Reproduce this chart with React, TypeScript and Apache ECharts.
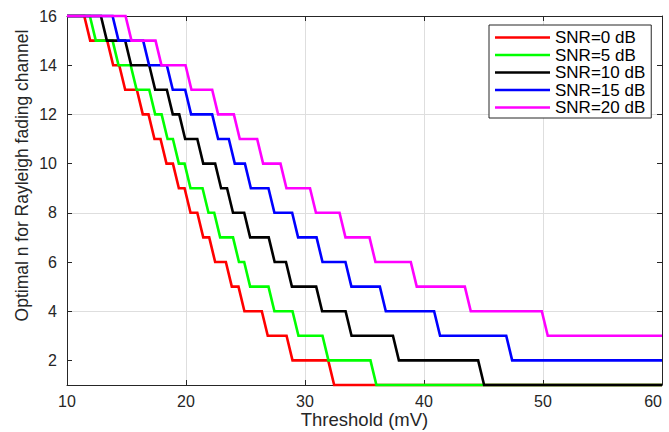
import React, { useEffect, useRef } from 'react';
import * as echarts from 'echarts';

// ---- data ----
const seriesNames = ['SNR=0 dB', 'SNR=5 dB', 'SNR=10 dB', 'SNR=15 dB', 'SNR=20 dB'];
const seriesColors = ['#ff0000', '#00ff00', '#000000', '#0000ff', '#ff00ff'];

// Threshold (mV) at which the optimal n drops by one step, starting from n = 16
const dropsSnr0 = [11.7, 13.63, 14.64, 16.12, 17.1, 18.11, 19.15, 20.13, 21.2, 22.2, 23.6, 24.66, 26.62, 28.7, 32.2];
const dropsSnr5 = [12.17, 14.08, 15.6, 17.16, 18.2, 19.15, 20.13, 21.64, 22.62, 24.2, 25.14, 27.18, 29.2, 31.72, 35.75];
const dropsSnr10 = [13.1, 15.14, 17.16, 18.64, 19.68, 21.2, 22.7, 23.7, 25.14, 27.2, 28.65, 31.19, 33.66, 37.64, 44.8];
const dropsSnr15 = [14.08, 16.65, 18.64, 20.18, 22.45, 23.85, 25.2, 27.18, 29.17, 31.22, 33.65, 36.54, 41.1, 47.16];
const dropsSnr20 = [15.17, 17.69, 20.21, 22.45, 24.27, 26.23, 28.19, 30.67, 33.15, 35.67, 39.14, 43.68, 50.15];

const startLevel = 16;
const xMin = 10;
const xMax = 60;
const yMin = 1;
const yMax = 16;
const yTickValues = [2, 4, 6, 8, 10, 12, 14, 16];
const xTitle = 'Threshold (mV)';
const yTitle = 'Optimal n for Rayleigh fading channel';

const allDrops = [dropsSnr0, dropsSnr5, dropsSnr10, dropsSnr15, dropsSnr20];
const slantHalf = 0.25;

function stepPoints(drops: number[]): number[][] {
  const pts: number[][] = [[xMin, startLevel]];
  let level = startLevel;
  for (const t of drops) {
    pts.push([t - slantHalf, level]);
    level -= 1;
    pts.push([t + slantHalf, level]);
  }
  pts.push([xMax, level]);
  return pts;
}

const FONT = '"Liberation Sans", Arial, Helvetica, sans-serif';
const AXIS_COLOR = '#262626';
const GRID_COLOR = '#dedede';

export default function App() {
  const ref = useRef<HTMLDivElement>(null);

  useEffect(() => {
    if (!ref.current) return;
    const chart = echarts.init(ref.current, undefined, { renderer: 'svg' });

    const baseX = {
      type: 'value' as const,
      min: xMin,
      max: xMax,
      interval: 10,
    };
    const baseY = {
      type: 'value' as const,
      min: yMin,
      max: yMax,
      interval: 1,
    };

    const option: any = {
      animation: false,
      backgroundColor: '#ffffff',
      grid: {
        left: 67,
        right: 7,
        top: 16,
        bottom: 47,
        containLabel: false,
        outerBoundsMode: 'none',
      },
      xAxis: [
        {
          ...baseX,
          position: 'bottom',
          name: xTitle,
          nameLocation: 'middle',
          nameGap: 25,
          nameMoveOverlap: false,
          nameTextStyle: { fontFamily: FONT, fontSize: 18.5, color: AXIS_COLOR, lineHeight: 19 },
          axisLine: { show: true, lineStyle: { color: AXIS_COLOR, width: 1 } },
          axisTick: { show: true, inside: true, length: 5, lineStyle: { color: AXIS_COLOR } },
          axisLabel: {
            fontFamily: FONT,
            fontSize: 16,
            color: AXIS_COLOR,
            margin: 8,
            alignMaxLabel: 'right',
          },
          splitLine: { show: true, lineStyle: { color: GRID_COLOR, width: 1 } },
        },
        {
          ...baseX,
          position: 'top',
          axisLine: { show: true, lineStyle: { color: AXIS_COLOR, width: 1 } },
          axisTick: { show: true, inside: true, length: 5, lineStyle: { color: AXIS_COLOR } },
          axisLabel: { show: false },
          splitLine: { show: false },
        },
      ],
      yAxis: [
        {
          ...baseY,
          position: 'left',
          name: yTitle,
          nameLocation: 'middle',
          nameGap: 36,
          nameMoveOverlap: false,
          nameRotate: 90,
          nameTextStyle: {
            fontFamily: FONT,
            fontSize: 17.5,
            color: AXIS_COLOR,
            padding: [0, 0, 0, 50],
          },
          axisLine: { show: true, lineStyle: { color: AXIS_COLOR, width: 1 } },
          axisTick: {
            show: true,
            inside: true,
            length: 5,
            customValues: yTickValues,
            lineStyle: { color: AXIS_COLOR },
          },
          axisLabel: {
            fontFamily: FONT,
            fontSize: 16,
            color: AXIS_COLOR,
            margin: 10,
            customValues: yTickValues,
            formatter: (v: number) => (v % 2 === 0 ? String(v) : ''),
          },
          splitLine: {
            show: true,
            lineStyle: { color: ['rgba(0,0,0,0)', GRID_COLOR], width: 1 },
          },
        },
        {
          ...baseY,
          position: 'right',
          axisLine: { show: true, lineStyle: { color: AXIS_COLOR, width: 1 } },
          axisTick: {
            show: true,
            inside: true,
            length: 5,
            customValues: yTickValues,
            lineStyle: { color: AXIS_COLOR },
          },
          axisLabel: { show: false },
          splitLine: { show: false },
        },
      ],
      legend: {
        data: seriesNames,
        orient: 'vertical',
        left: 489,
        top: 25,
        padding: [4, 6, 2, 6],
        icon: 'rect',
        itemWidth: 55,
        itemHeight: 2.6,
        itemGap: 0.5,
        backgroundColor: '#ffffff',
        borderColor: AXIS_COLOR,
        borderWidth: 1,
        borderRadius: 0,
        textStyle: { fontFamily: FONT, fontSize: 17, color: '#000000', lineHeight: 17 },
      },
      series: seriesNames.map((name, i) => ({
        name,
        type: 'line',
        xAxisIndex: 0,
        yAxisIndex: 0,
        data: stepPoints(allDrops[i]),
        symbol: 'none',
        showSymbol: false,
        clip: false,
        z: 2 + i,
        lineStyle: { color: seriesColors[i], width: 2.6, join: 'miter', cap: 'butt' },
        itemStyle: { color: seriesColors[i] },
      })),
    };

    chart.setOption(option);
    return () => chart.dispose();
  }, []);

  return (
    <div
      ref={ref}
      style={{ position: 'fixed', left: 0, top: 0, width: 669, height: 432, background: '#fff' }}
    />
  );
}
